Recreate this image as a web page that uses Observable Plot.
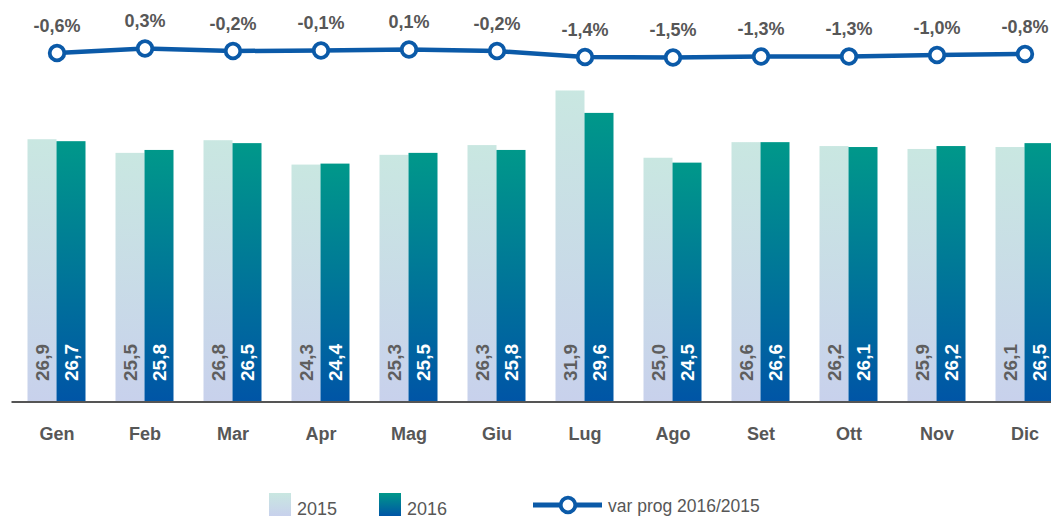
<!DOCTYPE html>
<html><head><meta charset="utf-8">
<script src="https://cdn.jsdelivr.net/npm/d3@7"></script>
<script src="https://cdn.jsdelivr.net/npm/@observablehq/plot@0.6"></script>
<style>
body{margin:0;background:#fff;font-family:"Liberation Sans",Arial,Helvetica,sans-serif;}
#wrap{position:relative;width:1051px;height:517px;overflow:hidden;background:#fff;}
#top{position:absolute;left:0;top:0;}
#bars{position:absolute;left:0;top:70px;}
#legend{position:absolute;left:0;top:486px;overflow:visible;}
#wrap svg{max-width:none !important;}
</style></head><body>
<div id="wrap"><div id="top"></div><div id="bars"></div>
<svg id="legend" width="1051" height="31"></svg></div>
<script>
const months = ["Gen","Feb","Mar","Apr","Mag","Giu","Lug","Ago","Set","Ott","Nov","Dic"];
const years = ["2015","2016"];
const values2015 = [26.9,25.5,26.8,24.3,25.3,26.3,31.9,25.0,26.6,26.2,25.9,26.1];
const values2016 = [26.7,25.8,26.5,24.4,25.5,25.8,29.6,24.5,26.6,26.1,26.2,26.5];
const varProg = [-0.6,0.3,-0.2,-0.1,0.1,-0.2,-1.4,-1.5,-1.3,-1.3,-1.0,-0.8];
const lineLabel = "var prog 2016/2015";

const BLUE = "#0b5aa8";
const GREY = "#575757";
const FONT = "'Liberation Sans', Arial, Helvetica, sans-serif";
const fmt = v => v.toFixed(1).replace(".", ",");

const barData = months.flatMap((m, i) => [
  {month: m, year: years[0], value: values2015[i]},
  {month: m, year: years[1], value: values2016[i]}
]);
const lineData = months.map((m, i) => ({month: m, v: varProg[i]}));

const W = 1060, ML = 25.5, MR = 5.3;

const topPlot = Plot.plot({
  width: W, height: 70, marginLeft: ML, marginRight: MR, marginTop: 48, marginBottom: 13,
  x: {type: "band", domain: months, paddingInner: 0.33, paddingOuter: 0, axis: null},
  y: {domain: [-1.5, 0.3], axis: null},
  style: {fontFamily: FONT, background: "transparent", overflow: "visible", maxWidth: "none"},
  marks: [
    Plot.line(lineData, {x: "month", y: "v", stroke: BLUE, strokeWidth: 4.5}),
    Plot.dot(lineData, {x: "month", y: "v", r: 7.3, fill: "white", stroke: BLUE, strokeWidth: 3.8}),
    Plot.text(lineData, {x: "month", y: "v", text: d => fmt(d.v) + "%", dy: -27, fontSize: 18, fontWeight: "bold", fill: GREY})
  ]
});
document.getElementById("top").appendChild(topPlot);

const barPlot = Plot.plot({
  width: W, height: 400, marginLeft: ML, marginRight: MR, marginTop: 19.5, marginBottom: 68.5,
  fx: {domain: months, paddingInner: 0.33, paddingOuter: 0, label: null, axis: "bottom", tickSize: 0, tickPadding: 25},
  x: {domain: years, padding: 0, axis: null},
  y: {domain: [0, 32], axis: null},
  style: {fontFamily: FONT, fontSize: "18px", fontWeight: "bold", color: GREY, background: "transparent", overflow: "visible", maxWidth: "none"},
  marks: [
    Plot.barY(barData.filter(d => d.year === years[0]), {fx: "month", x: "year", y: "value", fill: "url(#g2015)"}),
    Plot.barY(barData.filter(d => d.year === years[1]), {fx: "month", x: "year", y: "value", fill: "url(#g2016)"}),
    Plot.text(barData.filter(d => d.year === years[0]), {fx: "month", x: "year", y: 0, text: d => fmt(d.value), rotate: -90, textAnchor: "start", dy: -21, fontSize: 19, fontWeight: "bold", fill: "#5e5e5e"}),
    Plot.text(barData.filter(d => d.year === years[1]), {fx: "month", x: "year", y: 0, text: d => fmt(d.value), rotate: -90, textAnchor: "start", dy: -21, fontSize: 19, fontWeight: "bold", fill: "white"}),
    Plot.ruleY([0], {stroke: "#555", strokeWidth: 2, insetLeft: -15.5, insetRight: -16})
  ]
});
document.getElementById("bars").appendChild(barPlot);

// legend + gradient defs
const lg = d3.select("#legend");
const defs = lg.append("defs");
const g1 = defs.append("linearGradient").attr("id", "g2015").attr("x1", 0).attr("y1", 0).attr("x2", 0).attr("y2", 1);
g1.append("stop").attr("offset", "0%").attr("stop-color", "#c9e7e1");
g1.append("stop").attr("offset", "100%").attr("stop-color", "#c8d1ec");
const g2 = defs.append("linearGradient").attr("id", "g2016").attr("x1", 0).attr("y1", 0).attr("x2", 0).attr("y2", 1);
g2.append("stop").attr("offset", "0%").attr("stop-color", "#00988a");
g2.append("stop").attr("offset", "100%").attr("stop-color", "#0055a6");

const legendItems = [
  {label: years[0], fill: "url(#g2015)", x: 269},
  {label: years[1], fill: "url(#g2016)", x: 379}
];
legendItems.forEach(it => {
  lg.append("rect").attr("x", it.x).attr("y", 7).attr("width", 22).attr("height", 23).attr("fill", it.fill);
  lg.append("text").attr("x", it.x + 28).attr("y", 28.5).attr("font-size", 18).attr("fill", GREY)
    .attr("font-family", FONT).text(it.label);
});
lg.append("line").attr("x1", 533).attr("x2", 602).attr("y1", 19).attr("y2", 19).attr("stroke", BLUE).attr("stroke-width", 5);
lg.append("circle").attr("cx", 568).attr("cy", 19).attr("r", 7.3).attr("fill", "white").attr("stroke", BLUE).attr("stroke-width", 3.8);
lg.append("text").attr("x", 608).attr("y", 26).attr("font-size", 17.5).attr("fill", GREY).attr("font-family", FONT).text(lineLabel);
</script>
</body></html>
